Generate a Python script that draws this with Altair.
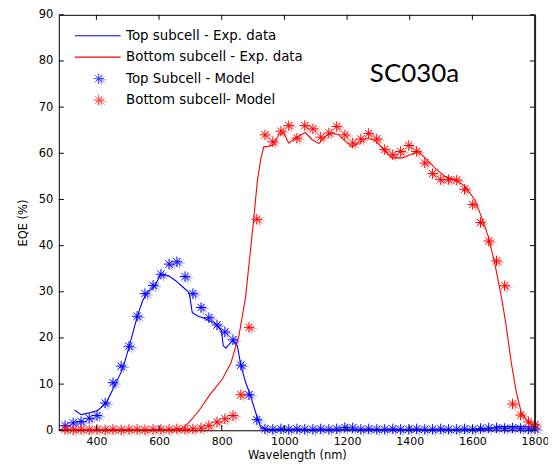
import altair as alt
import pandas as pd

# ---------------- data ----------------
model_wl = [300, 326, 351, 377, 402, 428, 453, 479, 504, 530, 555, 581, 606, 632, 657,
            683, 708, 734, 759, 785, 810, 836, 861, 887, 912, 938, 963, 989, 1014, 1040,
            1065, 1091, 1116, 1142, 1167, 1193, 1218, 1244, 1269, 1295, 1320, 1346, 1371,
            1397, 1422, 1448, 1473, 1499, 1524, 1550, 1575, 1601, 1626, 1652, 1677, 1703,
            1728, 1754, 1779, 1800]

top_model_eqe = [1.0, 1.6, 1.9, 2.6, 3.2, 5.9, 10.3, 13.9, 18.2, 24.7, 29.6, 31.4, 33.8, 36.0, 36.5,
                 33.3, 29.6, 26.6, 24.4, 22.8, 21.3, 19.6, 14.1, 7.7, 2.3, 0.3, 0.2, 0.3, 0.2, 0.3,
                 0.2, 0.2, 0.3, 0.2, 0.3, 0.6, 0.5, 0.2, 0.3, 0.2, 0.2, 0.3, 0.2,
                 0.2, 0.3, 0.2, 0.2, 0.3, 0.2, 0.2, 0.3, 0.2, 0.4, 0.5, 0.5, 0.4,
                 0.5, 0.4, 0.3, 0.3]

bot_model_eqe = [0.2, 0.1, 0.2, 0.1, 0.2, 0.1, 0.2, 0.1, 0.2, 0.2, 0.1, 0.2, 0.2, 0.2, 0.3,
                 0.2, 0.3, 0.5, 1.0, 1.8, 2.5, 3.2, 7.7, 22.3, 45.7, 64.0, 62.5, 64.8, 66.0, 63.3,
                 66.0, 65.3, 63.5, 64.4, 65.8, 64.0, 62.2, 63.1, 64.3, 63.1, 60.8, 59.7, 60.4,
                 61.7, 60.4, 57.9, 55.6, 54.3, 54.3, 54.2, 52.2, 48.9, 45.0, 41.0, 36.7, 31.3,
                 5.7, 3.3, 1.8, 1.2]

top_exp_wl = [330, 351, 378, 404, 431, 457, 484, 505, 531, 547, 560, 588, 605, 632, 653,
              683, 696, 706, 722, 749, 781, 799, 805, 813, 834, 850, 860, 876, 892, 908,
              924, 940, 1000, 1200, 1400, 1600, 1660, 1680, 1790, 1800]
top_exp_eqe = [4.4, 3.4, 3.8, 4.3, 5.9, 9.5, 13.3, 18.3, 24.8, 28.0, 29.6, 31.4, 33.8, 33.4, 32.4,
               30.6, 29.8, 25.5, 24.8, 24.1, 23.0, 21.6, 18.3, 17.8, 19.4, 18.3, 14.4, 10.4, 7.5, 3.9,
               0.7, 0.2, 0.1, 0.1, 0.1, 0.1, 0.3, 0.8, 0.8, 0.5]

bot_exp_wl = [300, 400, 500, 600, 660, 680, 706, 730, 760, 802, 829, 855, 876, 892, 903,
              913, 924, 934, 950, 966, 982, 998, 1014, 1035, 1067, 1088, 1110, 1131, 1152, 1173,
              1195, 1216, 1237, 1263, 1290, 1317, 1344, 1376, 1401, 1428, 1449, 1481, 1512, 1544,
              1576, 1607, 1628, 1650, 1671, 1692, 1708, 1724, 1740, 1756, 1778, 1799]
bot_exp_eqe = [0.1, 0.1, 0.1, 0.1, 0.2, 0.6, 2.5, 4.5, 7.5, 11.1, 14.5, 20.5, 28.8, 39.2, 46.4,
               53.6, 58.6, 61.4, 61.5, 61.9, 64.0, 64.4, 62.2, 63.3, 64.5, 63.0, 62.1, 63.7, 64.4, 64.0,
               62.6, 61.4, 62.2, 63.3, 62.8, 60.8, 59.0, 59.0, 59.7, 60.4, 59.0, 56.8, 55.0, 54.3,
               52.9, 50.0, 46.4, 42.1, 36.3, 29.1, 22.6, 14.7, 8.3, 3.9, 1.8, 1.0]

x_ticks = [400, 600, 800, 1000, 1200, 1400, 1600, 1800]
y_ticks = [0, 10, 20, 30, 40, 50, 60, 70, 80, 90]

legend_labels = ["Top subcell - Exp. data", "Bottom subcell - Exp. data",
                 "Top Subcell - Model", "Bottom subcell- Model"]
annotation = "SC030a"

# ---------------- chart ----------------
W, H = 478, 417
BLUE, RED = "#0000ff", "#ff0000"
FONT = "DejaVu Sans"

STAR = "M-1,0L1,0M0,-1L0,1M-0.7,-0.7L0.7,0.7M-0.7,0.7L0.7,-0.7"
STAR_GHOST = "M-0.5,0.25L1.5,0.25M0.5,-0.75L0.5,1.25M-0.2,-0.45L1.2,0.95M-0.2,0.95L1.2,-0.45"

xs = alt.Scale(domain=[280, 1800], nice=False, zero=False)
ys = alt.Scale(domain=[0, 90], nice=False, zero=False)

xaxis = alt.Axis(values=x_ticks, format="d", grid=False, ticks=False, domain=False, labelFont=FONT,
                 labelFontSize=11, labelColor="#000", labelPadding=5, labelFlush=False,
                 labelOverlap=False,
                 title="Wavelength (nm)", titleFont=FONT, titleFontSize=11.5,
                 titleFontWeight="normal", titleColor="#000", titlePadding=3)
yaxis = alt.Axis(values=y_ticks, format="d", grid=False, ticks=False, domain=False, labelFont=FONT,
                 labelFontSize=11.5, labelColor="#000", labelPadding=6, labelFlush=False,
                 labelOverlap=False,
                 title="EQE (%)", titleFont=FONT, titleFontSize=11.5,
                 titleFontWeight="normal", titleColor="#000", titlePadding=10)

top_model = pd.DataFrame({"wl": model_wl, "eqe": top_model_eqe})
bot_model = pd.DataFrame({"wl": model_wl, "eqe": bot_model_eqe})
top_exp = pd.DataFrame({"wl": top_exp_wl, "eqe": top_exp_eqe})
bot_exp = pd.DataFrame({"wl": bot_exp_wl, "eqe": bot_exp_eqe})
xt = pd.DataFrame({"v": x_ticks})
yt = pd.DataFrame({"v": y_ticks})
one = pd.DataFrame({"a": [0]})


def X(field):
    return alt.X(field, type="quantitative", scale=xs, axis=xaxis)


def Y(field):
    return alt.Y(field, type="quantitative", scale=ys, axis=yaxis)


def line(df, color):
    return alt.Chart(df).mark_line(color=color, strokeWidth=1.1, clip=True).encode(
        x=X("wl"), y=Y("eqe"))


def stars(df, color, path, opacity):
    return alt.Chart(df).mark_point(shape=path, filled=False, color=color, strokeWidth=1,
                                    size=110, opacity=opacity).encode(x=X("wl"), y=Y("eqe"))


layers = [
    line(top_exp, BLUE),
    line(bot_exp, RED),
    stars(top_model, BLUE, STAR_GHOST, 0.4),
    stars(top_model, BLUE, STAR, 1.0),
    stars(bot_model, RED, STAR_GHOST, 0.4),
    stars(bot_model, RED, STAR, 1.0),
]

# inward ticks on all four sides
tick_col = "#000"
layers += [
    alt.Chart(yt).mark_rule(color=tick_col, strokeWidth=1).encode(
        y=Y("v"), x=alt.value(0), x2=alt.value(5)),
    alt.Chart(yt).mark_rule(color=tick_col, strokeWidth=1).encode(
        y=Y("v"), x=alt.value(W - 5), x2=alt.value(W)),
    alt.Chart(xt).mark_rule(color=tick_col, strokeWidth=1).encode(
        x=X("v"), y=alt.value(H - 5), y2=alt.value(H)),
    alt.Chart(xt).mark_rule(color=tick_col, strokeWidth=1).encode(
        x=X("v"), y=alt.value(0), y2=alt.value(5)),
    alt.Chart(one).mark_rule(color="#262626", strokeWidth=2).encode(
        x=alt.value(W), y=alt.value(0), y2=alt.value(H)),
]

# legend (drawn inside the plot, top-left)
rows_y = [21, 42.5, 64, 85.5]
leg_colors = [BLUE, RED, BLUE, RED]
for i, lab in enumerate(legend_labels):
    if i < 2:
        layers.append(alt.Chart(one).mark_rule(color=leg_colors[i], strokeWidth=1.1).encode(
            x=alt.value(16), x2=alt.value(62), y=alt.value(rows_y[i])))
    else:
        layers.append(alt.Chart(one).mark_point(shape=STAR_GHOST, filled=False, color=leg_colors[i],
                                                strokeWidth=1, size=110, opacity=0.4).encode(
            x=alt.value(40), y=alt.value(rows_y[i])))
        layers.append(alt.Chart(one).mark_point(shape=STAR, filled=False, color=leg_colors[i],
                                                strokeWidth=1, size=110).encode(
            x=alt.value(40), y=alt.value(rows_y[i])))
    layers.append(alt.Chart(one).mark_text(align="left", baseline="middle", font=FONT,
                                           fontSize=13.4, color="#000").encode(
        x=alt.value(67.5), y=alt.value(rows_y[i]), text=alt.value(lab)))

layers.append(alt.Chart(one).mark_text(align="center", baseline="alphabetic", font="Lato",
                                       fontSize=26, color="#000").encode(
    x=alt.value(357), y=alt.value(67.5), text=alt.value(annotation)))

chart = alt.layer(*layers).properties(
    width=W, height=H,
    autosize=alt.AutoSizeParams(type="none"),
    padding={"left": 51, "top": 6, "right": 13, "bottom": 33},
    background="white",
).configure_view(stroke="#000", strokeWidth=1)

chart.save("out.html", embed_options={"renderer": "svg", "actions": False})
